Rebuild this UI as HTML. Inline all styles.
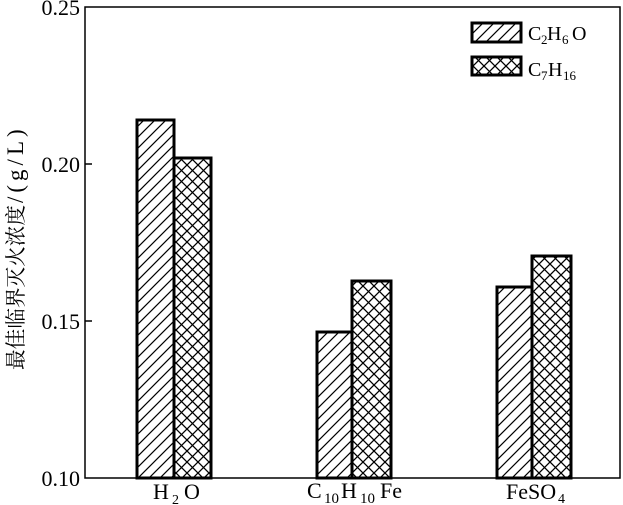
<!DOCTYPE html>
<html><head><meta charset="utf-8"><style>
html,body{margin:0;padding:0;background:#fff;}
svg{display:block;}
text{font-family:"Liberation Serif","Noto Serif CJK SC",serif;fill:#000;}
</style></head><body>
<svg width="623" height="505" viewBox="0 0 623 505" xmlns="http://www.w3.org/2000/svg">
<defs>
<pattern id="sl" patternUnits="userSpaceOnUse" width="11" height="11">
<path d="M0,11 L11,0 M-2,2 L2,-2 M9,13 L13,9" stroke="#000" stroke-width="1.2" fill="none"/>
</pattern>
<pattern id="cr" patternUnits="userSpaceOnUse" width="11" height="11">
<path d="M0,11 L11,0 M-2,2 L2,-2 M9,13 L13,9 M0,0 L11,11 M-2,9 L2,13 M9,-2 L13,2" stroke="#000" stroke-width="1.3" fill="none"/>
</pattern>
</defs>
<rect x="0" y="0" width="623" height="505" fill="#fff"/>

<!-- bars -->
<rect x="137" y="120" width="37" height="358" fill="url(#sl)" stroke="#000" stroke-width="3"/>
<rect x="174" y="158" width="37" height="320" fill="url(#cr)" stroke="#000" stroke-width="3"/>
<rect x="317" y="332" width="35" height="146" fill="url(#sl)" stroke="#000" stroke-width="3"/>
<rect x="352" y="281" width="39" height="197" fill="url(#cr)" stroke="#000" stroke-width="3"/>
<rect x="497" y="287" width="35" height="191" fill="url(#sl)" stroke="#000" stroke-width="3"/>
<rect x="532" y="256" width="39" height="222" fill="url(#cr)" stroke="#000" stroke-width="3"/>

<!-- frame -->
<rect x="85" y="7" width="535" height="471" fill="none" stroke="#000" stroke-width="1.5"/>
<line x1="85" y1="164" x2="92" y2="164" stroke="#000" stroke-width="1.5"/>
<line x1="85" y1="321" x2="92" y2="321" stroke="#000" stroke-width="1.5"/>

<!-- y tick labels -->
<text x="80" y="15" font-size="22" text-anchor="end">0.25</text>
<text x="80" y="172" font-size="22" text-anchor="end">0.20</text>
<text x="80" y="329" font-size="22" text-anchor="end">0.15</text>
<text x="80" y="486" font-size="22" text-anchor="end">0.10</text>

<!-- x labels -->
<text x="153" y="499" font-size="22">H</text>
<text x="172" y="504" font-size="14">2</text>
<text x="184" y="499" font-size="22">O</text>

<text x="307" y="498" font-size="22">C</text>
<text x="324" y="503" font-size="15">10</text>
<text x="341" y="498" font-size="22">H</text>
<text x="360" y="503" font-size="15">10</text>
<text x="380" y="498" font-size="22">Fe</text>

<text x="506" y="499" font-size="22">FeSO</text>
<text x="558" y="503" font-size="14">4</text>

<!-- legend -->
<rect x="472" y="23" width="49" height="19" fill="url(#sl)" stroke="#000" stroke-width="3"/>
<rect x="472" y="57" width="49" height="18" fill="url(#cr)" stroke="#000" stroke-width="3"/>
<text x="528" y="40" font-size="20">C</text>
<text x="541" y="44" font-size="13">2</text>
<text x="547" y="40" font-size="20">H</text>
<text x="562" y="44" font-size="13">6</text>
<text x="572" y="40" font-size="20">O</text>
<text x="528" y="76" font-size="20">C</text>
<text x="541" y="80" font-size="13">7</text>
<text x="548" y="76" font-size="20">H</text>
<text x="563" y="80" font-size="13">16</text>

<!-- y axis label -->
<g transform="translate(23,370) rotate(-90)">
<text x="0" y="0" font-size="21" font-family="'Noto Serif CJK SC','Noto Sans CJK SC',serif" textLength="165" lengthAdjust="spacingAndGlyphs">最佳临界灭火浓度</text>
<text x="167" y="0" font-size="23" letter-spacing="4">/(g/L)</text>
</g>
</svg>
</body></html>
